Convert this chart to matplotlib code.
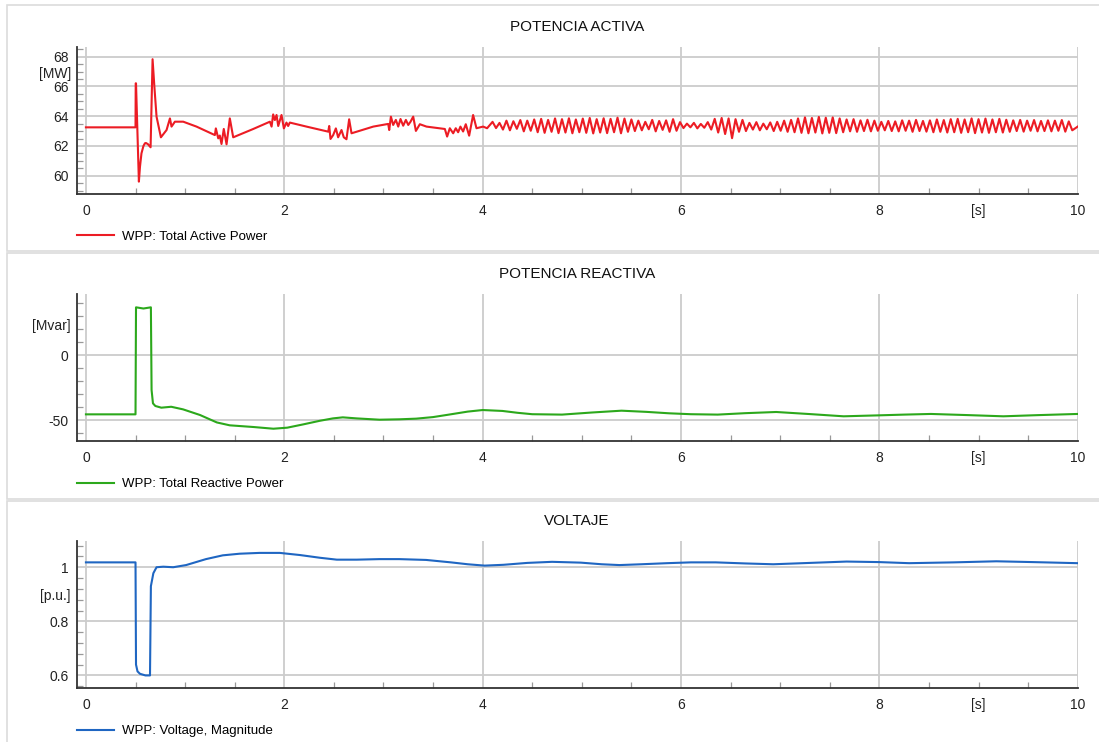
import numpy as np
import matplotlib
matplotlib.use("Agg")
import matplotlib.pyplot as plt
from matplotlib.patches import Rectangle
from matplotlib.ticker import MultipleLocator, FixedLocator, FixedFormatter

plt.rcParams["font.family"] = ["Liberation Sans", "DejaVu Sans"]

# --- active power [MW] (transient part) ---
p_t = [0.0, 0.50, 0.502, 0.505, 0.534, 0.545, 0.56, 0.58, 0.595, 0.605, 0.625, 0.652,
       0.672, 0.69, 0.712, 0.756, 0.813, 0.847, 0.863, 0.897, 0.981, 1.115, 1.30, 1.31,
       1.334, 1.35, 1.367, 1.39, 1.418, 1.451, 1.485, 1.687, 1.855, 1.872, 1.888, 1.905,
       1.922, 1.939, 1.972, 1.996, 2.022, 2.039, 2.056, 2.224, 2.443, 2.453, 2.466, 2.493,
       2.52, 2.543, 2.577, 2.60, 2.627, 2.654, 2.678, 2.897, 3.048, 3.058, 3.075, 3.098,
       3.125, 3.149, 3.172, 3.199, 3.226, 3.25, 3.273, 3.30, 3.327, 3.367, 3.434, 3.619,
       3.642, 3.669, 3.703, 3.729, 3.753, 3.776, 3.803, 3.83, 3.864, 3.904, 3.938, 4.005,
       4.045]
p_v = [63.25, 63.25, 66.21, 66.21, 59.60, 60.60, 61.50, 62.00, 62.18, 62.20, 62.12, 61.91,
       67.83, 66.00, 63.97, 62.58, 63.07, 63.85, 63.30, 63.63, 63.63, 63.30, 62.73, 63.18,
       62.51, 62.70, 62.13, 63.14, 62.11, 63.85, 62.58, 63.14, 63.63, 63.30, 64.12, 63.74,
       64.08, 63.34, 64.08, 63.18, 63.57, 63.34, 63.57, 63.30, 62.96, 63.34, 62.47, 62.73,
       63.18, 62.58, 63.07, 62.58, 62.45, 63.79, 62.85, 63.30, 63.48, 63.07, 63.97, 63.41,
       63.75, 63.30, 63.81, 63.36, 63.75, 63.41, 63.63, 63.97, 63.01, 63.46, 63.30, 63.14,
       62.63, 63.19, 62.85, 63.19, 62.92, 63.30, 62.97, 63.46, 62.69, 64.08, 63.19, 63.30,
       63.19]

# --- active power, steady oscillation: one high and one low per period ---
osc_start = 4.10
osc_half = 0.035
p_hi = [63.62, 63.55, 63.70, 63.66, 63.74, 63.70,
        63.78, 63.82, 63.75, 63.85, 63.80, 63.86, 63.78,
        63.84, 63.88, 63.80, 63.86, 63.82, 63.90, 63.84, 63.78,
        63.70, 63.62, 63.75, 63.68, 63.72, 63.80, 63.60,
        63.50, 63.55, 63.48, 63.60,
        63.82, 63.88, 63.85, 63.80, 63.75,
        63.55, 63.60, 63.50, 63.58, 63.62, 63.70,
        63.75, 63.85, 63.92, 63.88, 63.95, 63.90, 63.92,
        63.85, 63.78, 63.80, 63.72, 63.76, 63.70,
        63.62, 63.68, 63.65, 63.72, 63.70, 63.75, 63.68, 63.72, 63.78, 63.74, 63.80,
        63.82, 63.78, 63.85, 63.80, 63.84, 63.78, 63.82,
        63.76, 63.72, 63.75, 63.70, 63.74, 63.68, 63.72, 63.70, 63.74, 63.65]
p_lo = [63.20, 63.10, 63.05, 63.15, 62.98, 63.02,
        62.92, 62.88, 62.95, 62.86, 62.90, 62.85, 62.92,
        62.88, 62.84, 62.90, 62.86, 62.92, 62.85, 62.95, 63.00,
        63.05, 63.12, 62.98, 63.08, 62.95, 63.02, 63.20,
        63.25, 63.18, 63.22, 63.10,
        62.90, 62.80, 62.52, 62.95, 63.00,
        63.10, 63.05, 63.12, 63.00, 63.02, 62.95,
        62.92, 62.88, 62.85, 62.90, 62.84, 62.88, 62.86,
        62.92, 62.98, 62.95, 63.00, 62.98, 63.02,
        63.05, 63.00, 62.98, 63.02, 62.95, 63.00, 62.96, 62.92, 62.95, 62.90, 62.92,
        62.88, 62.92, 62.86, 62.90, 62.88, 62.92, 62.90,
        62.95, 63.00, 62.96, 63.02, 62.98, 63.00, 62.98, 63.02, 62.96, 63.05]

# --- reactive power [Mvar] ---
q_t = [0.0, 0.50, 0.505, 0.58, 0.655, 0.662, 0.676, 0.70, 0.76, 0.86, 0.98, 1.15, 1.32,
       1.45, 1.69, 1.89, 2.03, 2.19, 2.36, 2.49, 2.59, 2.73, 2.96, 3.16, 3.33, 3.50,
       3.66, 3.85, 4.00, 4.20, 4.35, 4.50, 4.80, 5.10, 5.40, 5.65, 5.88, 6.10, 6.37,
       6.65, 6.96, 7.30, 7.64, 7.98, 8.25, 8.52, 8.90, 9.25, 9.60, 10.0]
q_v = [-45.4, -45.4, 36.5, 35.6, 36.5, -26.8, -37.0, -39.0, -40.3, -39.6, -41.6, -45.9,
       -51.6, -53.8, -55.1, -56.4, -55.6, -53.1, -50.3, -48.5, -47.7, -48.5, -49.5,
       -49.2, -48.7, -47.5, -45.6, -43.3, -42.1, -42.8, -44.2, -45.3, -45.6, -44.0,
       -42.6, -43.5, -44.6, -45.3, -45.6, -44.5, -43.6, -45.2, -46.9, -46.2, -45.6,
       -45.1, -46.0, -46.9, -46.0, -45.1]

# --- voltage [p.u.] ---
u_t = [0.0, 0.50, 0.505, 0.52, 0.545, 0.60, 0.646, 0.655, 0.68, 0.712, 0.78, 0.88,
       1.01, 1.21, 1.38, 1.55, 1.75, 1.955, 2.16, 2.36, 2.53, 2.73, 2.96, 3.16, 3.43,
       3.68, 3.85, 4.02, 4.21, 4.45, 4.70, 4.99, 5.20, 5.38, 5.60, 5.86, 6.10, 6.35,
       6.65, 6.93, 7.30, 7.67, 8.00, 8.30, 8.75, 9.18, 9.55, 10.0]
u_v = [1.018, 1.018, 0.640, 0.615, 0.606, 0.600, 0.600, 0.930, 0.978, 1.000, 1.002,
       1.000, 1.008, 1.030, 1.044, 1.050, 1.053, 1.053, 1.045, 1.035, 1.028, 1.028,
       1.030, 1.030, 1.027, 1.018, 1.011, 1.006, 1.009, 1.016, 1.020, 1.017, 1.011,
       1.008, 1.011, 1.015, 1.018, 1.018, 1.014, 1.011, 1.016, 1.021, 1.019, 1.015,
       1.018, 1.022, 1.019, 1.015]

t_osc = osc_start + osc_half * np.arange(2 * len(p_hi))
v_osc = np.column_stack([p_hi, p_lo]).ravel()
p_time = np.concatenate([p_t, t_osc, [10.0]])
p_val = np.concatenate([p_v, v_osc, [63.30]])

W, H = 1099, 742
fig = plt.figure(figsize=(W / 100, H / 100), dpi=100)

def fx(px):
    return px / W

def fy(py):
    return (H - py) / H

# panel frames
for top, bot in [(5, 251), (253, 499), (501, 745)]:
    fig.patches.append(Rectangle((fx(7), fy(bot)), fx(1100 - 7), (bot - top) / H,
                                 transform=fig.transFigure, fill=False,
                                 edgecolor="#dcdcdc", lw=1.2))

panels = [
    dict(top=47, title="POTENCIA ACTIVA", x=p_time, y=p_val, color="#ec1c24",
         label="WPP: Total Active Power", ylim=(58.77, 68.65), major=[60, 62, 64, 66, 68],
         labels=["60", "62", "64", "66", "68"], minor=0.5, unit="[MW]", unit_y=66.95),
    dict(top=294, title="POTENCIA REACTIVA", x=q_t, y=q_v, color="#2ca81c",
         label="WPP: Total Reactive Power", ylim=(-65.8, 46.7), major=[-50, 0],
         labels=["-50", "0"], minor=10, unit="[Mvar]", unit_y=24.0),
    dict(top=541, title="VOLTAJE", x=u_t, y=u_v, color="#1f66c2",
         label="WPP: Voltage, Magnitude", ylim=(0.5535, 1.097), major=[0.6, 0.8, 1.0],
         labels=["0.6", "0.8", "1"], minor=0.04, unit="[p.u.]", unit_y=0.9),
]

for p in panels:
    top = p["top"]
    ax = fig.add_axes([fx(77), fy(top + 147), fx(1077.7 - 77), 147 / H])
    ax.plot(p["x"], p["y"], color=p["color"], lw=1.5, label=p["label"])
    ax.set_xlim(-0.09, 10.0)
    ax.set_ylim(*p["ylim"])

    ax.xaxis.set_major_locator(FixedLocator([0, 2, 4, 6, 8, 10]))
    ax.xaxis.set_minor_locator(MultipleLocator(0.5))
    ax.yaxis.set_major_locator(FixedLocator(p["major"]))
    ax.yaxis.set_major_formatter(FixedFormatter(p["labels"]))
    ax.yaxis.set_minor_locator(MultipleLocator(p["minor"]))

    ax.grid(True, which="major", color="#cccccc", lw=1.3)
    ax.set_axisbelow(True)
    ax.tick_params(which="major", length=0, labelsize=10, colors="#222222")
    ax.tick_params(axis="x", which="major", pad=7)
    ax.tick_params(axis="y", which="major", pad=6)
    ax.tick_params(which="minor", direction="in", length=4, width=0.9, color="#999999")
    for s in ["top", "right"]:
        ax.spines[s].set_visible(False)
    for s in ["left", "bottom"]:
        ax.spines[s].set_color("#333333")
        ax.spines[s].set_linewidth(1.3)

    # unit labels placed like tick labels
    ax.annotate(p["unit"], xy=(0, p["unit_y"]), xycoords=("axes fraction", "data"),
                xytext=(-4.5, -1.5), textcoords="offset points", ha="right", va="center",
                fontsize=10, color="#222222")
    ax.annotate("[s]", xy=(9, 0), xycoords=("data", "axes fraction"),
                xytext=(0, -7), textcoords="offset points", ha="center", va="top",
                fontsize=10, color="#222222")

    fig.text(fx(577), fy(top - 20), p["title"], ha="center", va="center",
             fontsize=11, color="#111111")
    ax.legend(loc="center left", bbox_to_anchor=(fx(77), fy(top + 190)),
              bbox_transform=fig.transFigure, frameon=False, fontsize=9.5,
              handlelength=2.8, handletextpad=0.6, borderpad=0, borderaxespad=0)

fig.savefig("out.png", dpi=100)
